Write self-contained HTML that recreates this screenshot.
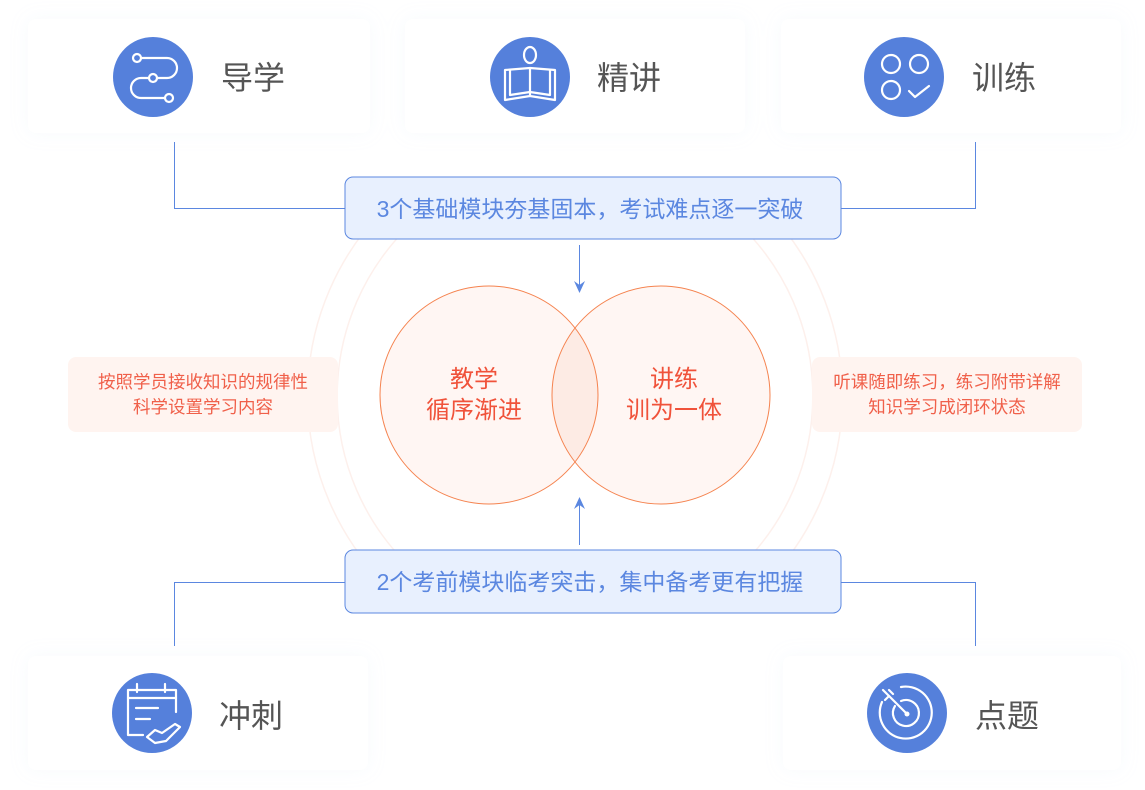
<!DOCTYPE html>
<html><head><meta charset="utf-8"><style>
html,body{margin:0;padding:0;background:#fff;}
svg{display:block;}
text{font-family:"Liberation Sans","Noto Sans CJK SC",sans-serif;}
</style></head><body>
<svg width="1145" height="790" viewBox="0 0 1145 790" xmlns="http://www.w3.org/2000/svg">
<defs>
<filter id="sh" x="-20%" y="-40%" width="140%" height="180%">
<feGaussianBlur in="SourceAlpha" stdDeviation="9"/>
<feColorMatrix values="0 0 0 0 0.55  0 0 0 0 0.65  0 0 0 0 0.85  0 0 0 0.12 0"/>
<feMerge><feMergeNode/><feMergeNode in="SourceGraphic"/></feMerge>
</filter>
</defs>
<g filter="url(#sh)" fill="#fff">
<rect x="28" y="19" width="342" height="114" rx="8"/>
<rect x="405" y="19" width="340" height="114" rx="8"/>
<rect x="781" y="19" width="340" height="114" rx="8"/>
<rect x="28" y="656" width="340" height="114" rx="8"/>
<rect x="783" y="656" width="338" height="114" rx="8"/>
</g>
<!-- faint side arcs -->
<g fill="none" stroke="#fdf0ec" stroke-width="1.5">
<path d="M386,207 A267,267 0 0 0 386,585"/>
<path d="M764,207 A267,267 0 0 1 764,585"/>
<path d="M407,228 A237,237 0 0 0 407,564"/>
<path d="M743,228 A237,237 0 0 1 743,564"/>
</g>
<rect x="68" y="357" width="270" height="75" rx="8" fill="#fff4f0"/>
<rect x="812" y="357" width="270" height="75" rx="8" fill="#fff4f0"/>
<g font-size="17.5" fill="#f0604a" text-anchor="middle">
<text x="203" y="388">按照学员接收知识的规律性</text>
<text x="203" y="413">科学设置学习内容</text>
<text x="947" y="388">听课随即练习，练习附带详解</text>
<text x="947" y="413">知识学习成闭环状态</text>
</g>
<g fill="none" stroke="#5b87e0" stroke-width="1">
<polyline points="174.5,142 174.5,208.5 345,208.5"/>
<polyline points="841,208.5 975.5,208.5 975.5,142"/>
<polyline points="345,582.5 174.5,582.5 174.5,646"/>
<polyline points="841,582.5 975.5,582.5 975.5,646"/>
<line x1="579.5" y1="245" x2="579.5" y2="288"/>
<line x1="579.5" y1="545" x2="579.5" y2="502"/>
</g>
<path d="M574,281 L579.5,293 L585,281 L579.5,285Z" fill="#5b87e0"/>
<path d="M574,509 L579.5,497 L585,509 L579.5,505Z" fill="#5b87e0"/>
<rect x="345" y="177" width="496" height="62" rx="8" fill="#e8f0fe" stroke="#5b87e0"/>
<rect x="345" y="550" width="496" height="63" rx="8" fill="#e8f0fe" stroke="#5b87e0"/>
<g font-size="23" fill="#5b87e0" text-anchor="middle">
<text x="590" y="217">3个基础模块夯基固本，考试难点逐一突破</text>
<text x="590" y="590">2个考前模块临考突击，集中备考更有把握</text>
</g>
<!-- venn -->
<circle cx="489" cy="395" r="109" fill="#fff6f3"/>
<circle cx="661" cy="395" r="109" fill="#fff6f3"/>
<path d="M575,328 A109,109 0 0 1 575,462 A109,109 0 0 1 575,328Z" fill="#fdebe4"/>
<circle cx="489" cy="395" r="109" fill="none" stroke="#f5834f" stroke-width="1"/>
<circle cx="661" cy="395" r="109" fill="none" stroke="#f5834f" stroke-width="1"/>
<g font-size="24" fill="#f0523a" text-anchor="middle">
<text x="474" y="387">教学</text>
<text x="474" y="418">循序渐进</text>
<text x="674" y="387">讲练</text>
<text x="674" y="418">训为一体</text>
</g>
<g fill="#5580db">
<circle cx="153" cy="77" r="40"/>
<circle cx="530" cy="77" r="40"/>
<circle cx="904" cy="77" r="40"/>
<circle cx="152" cy="713" r="40"/>
<circle cx="907" cy="713" r="40"/>
</g>
<g fill="none" stroke="#fff" stroke-width="2.2" stroke-linecap="round" stroke-linejoin="round">
<circle cx="137" cy="58" r="4"/>
<circle cx="153" cy="78" r="4"/>
<circle cx="169" cy="98" r="4"/>
<path d="M141,58 H167 A10,10 0 0 1 167,78 H157"/>
<path d="M149,78 H141 A10,10 0 0 0 141,98 H165"/>
<ellipse cx="530" cy="55" rx="6" ry="8"/>
<path d="M505,70 V100 L530,96 L555,100 V70 L530,68 L505,70Z M530,68 V96"/>
<path d="M510,70 V95 L530,92 M550,70 V95 L530,92"/>
<circle cx="891" cy="64" r="9"/>
<circle cx="919" cy="64" r="9"/>
<circle cx="891" cy="90" r="9"/>
<path d="M909,91 L915,97 L929,86"/>
<path d="M143,735 H128 V690 H176 V712"/>
<path d="M128,698 H176 M137,684 V692 M165,684 V692"/>
<path d="M136,708 H158 M136,719 H150"/>
<path d="M147,737 L155,730 L162,733 L175,724 L180,727 L166,741 L155,743Z"/>
<path d="M901,687 A26,26 0 1 1 882,702"/>
<path d="M901,701 A13,13 0 1 1 895,706"/>
<path d="M907,714 L889,696"/>
<path d="M883,690 L889,696 L885,700 M889,690 L893,694"/>
</g>
<circle cx="907" cy="714" r="2.5" fill="#fff"/>
<g font-size="32" fill="#555">
<text x="221" y="89">导学</text>
<text x="597" y="89">精讲</text>
<text x="972" y="89">训练</text>
<text x="219" y="727">冲刺</text>
<text x="975" y="727">点题</text>
</g>
</svg>
</body></html>
